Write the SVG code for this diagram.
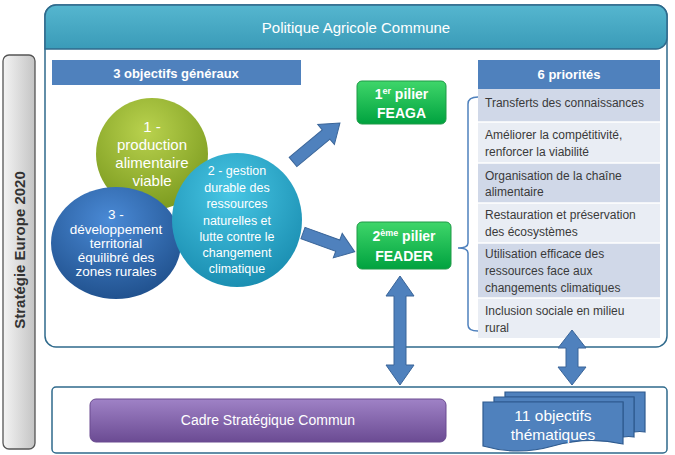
<svg xmlns="http://www.w3.org/2000/svg" width="675" height="455" viewBox="0 0 675 455">
<defs>
<linearGradient id="gBar" x1="0" y1="0" x2="1" y2="0"><stop offset="0" stop-color="#f4f4f4"/><stop offset="1" stop-color="#c4c4c4"/></linearGradient>
<linearGradient id="gHead" x1="0" y1="0" x2="0" y2="1"><stop offset="0" stop-color="#55b6cf"/><stop offset="1" stop-color="#3a9bb8"/></linearGradient>
<radialGradient id="gGreen" cx="0.45" cy="0.3" r="0.7"><stop offset="0" stop-color="#b9d24e"/><stop offset="1" stop-color="#7d9c20"/></radialGradient>
<radialGradient id="gBlue" cx="0.45" cy="0.3" r="0.7"><stop offset="0" stop-color="#4a8ad6"/><stop offset="1" stop-color="#21528f"/></radialGradient>
<radialGradient id="gTeal" cx="0.45" cy="0.3" r="0.7"><stop offset="0" stop-color="#47c6e4"/><stop offset="1" stop-color="#1b8fb2"/></radialGradient>
<linearGradient id="gPil" x1="0" y1="0" x2="0" y2="1"><stop offset="0" stop-color="#3fd66a"/><stop offset="1" stop-color="#00a23f"/></linearGradient>
<linearGradient id="gPur" x1="0" y1="0" x2="0" y2="1"><stop offset="0" stop-color="#9f82c6"/><stop offset="1" stop-color="#6b4b93"/></linearGradient>
<style>
text{font-family:"Liberation Sans",Arial,sans-serif;}
.w{fill:#fff;}
.c{text-anchor:middle;}
.b{font-weight:bold;}
.pr{font-size:12px;fill:#3a3a3a;}
.arrow{fill:#4f81bd;stroke:#3a6599;stroke-width:1;}
.doc{fill:#4f81bd;stroke:#2f5b8f;stroke-width:1.2;}
</style>
</defs>

<g id="strategie">
<rect x="3" y="55" width="32" height="394" rx="6" fill="url(#gBar)" stroke="#555" stroke-width="1.3"/>
<text transform="translate(25,250) rotate(-90)" class="c b" font-size="15" fill="#333">Stratégie Europe 2020</text>
</g>

<g id="pac">
<rect x="45" y="5" width="622" height="342" rx="11" fill="#fff" stroke="#2f6a8c" stroke-width="1.5"/>
<path d="M45,49 V16 A11,11 0 0 1 56,5 H656 A11,11 0 0 1 667,16 V38 A11,11 0 0 1 656,49 Z" fill="url(#gHead)" stroke="#2f6a8c" stroke-width="1.5"/>
<text x="356" y="33" class="c w" font-size="15">Politique Agricole Commune</text>
</g>

<g id="objectifs">
<rect x="52" y="60" width="249" height="25" fill="#4f81bd"/>
<text x="176" y="78" class="c w b" font-size="13">3 objectifs généraux</text>
</g>

<g id="obj1">
<circle cx="152" cy="154" r="56" fill="url(#gGreen)"/>
<text class="c w" font-size="15"><tspan x="152" y="132">1 -</tspan><tspan x="152" y="150">production</tspan><tspan x="152" y="168">alimentaire</tspan><tspan x="152" y="186">viable</tspan></text>
</g>

<g id="obj3">
<ellipse cx="116" cy="243" rx="65" ry="56" fill="url(#gBlue)"/>
<text class="c w" font-size="13.5"><tspan x="116" y="219">3 -</tspan><tspan x="116" y="234">développement</tspan><tspan x="116" y="248">territorial</tspan><tspan x="116" y="262">équilibré des</tspan><tspan x="116" y="276">zones rurales</tspan></text>
</g>

<g id="obj2">
<ellipse cx="237" cy="220" rx="65" ry="67" fill="url(#gTeal)"/>
<text class="c w" font-size="12.5"><tspan x="237" y="175">2 - gestion</tspan><tspan x="237" y="192">durable des</tspan><tspan x="237" y="208">ressources</tspan><tspan x="237" y="225">naturelles et</tspan><tspan x="237" y="241">lutte contre le</tspan><tspan x="237" y="257">changement</tspan><tspan x="237" y="273">climatique</tspan></text>
</g>

<g id="feaga">
<rect x="357" y="81" width="89" height="43" rx="5" fill="url(#gPil)" stroke="#1e9a46" stroke-width="1"/>
<text class="c w b" font-size="14"><tspan x="401.5" y="99">1<tspan font-size="9" dy="-5">er</tspan><tspan dy="5"> pilier</tspan></tspan><tspan x="401.5" y="118">FEAGA</tspan></text>
</g>

<g id="feader">
<rect x="357" y="222" width="94" height="47" rx="5" fill="url(#gPil)" stroke="#1e9a46" stroke-width="1"/>
<text class="c w b" font-size="14"><tspan x="404" y="241">2<tspan font-size="9" dy="-5">ème</tspan><tspan dy="5"> pilier</tspan></tspan><tspan x="404" y="261">FEADER</tspan></text>
</g>

<g id="priorites">
<rect x="478" y="60" width="182" height="29" fill="#4f81bd"/>
<text x="569" y="79" class="c w b" font-size="13">6 priorités</text>
<rect x="478" y="89" width="182" height="33" fill="#d0d8e8"/>
<rect x="478" y="122" width="182" height="41" fill="#e9edf4"/>
<rect x="478" y="163" width="182" height="40" fill="#d0d8e8"/>
<rect x="478" y="203" width="182" height="40" fill="#e9edf4"/>
<rect x="478" y="243" width="182" height="55" fill="#d0d8e8"/>
<rect x="478" y="298" width="182" height="40" fill="#e9edf4"/>
<line x1="478" y1="122" x2="660" y2="122" stroke="#fff" stroke-width="1.5"/>
<line x1="478" y1="163" x2="660" y2="163" stroke="#fff" stroke-width="1.5"/>
<line x1="478" y1="203" x2="660" y2="203" stroke="#fff" stroke-width="1.5"/>
<line x1="478" y1="243" x2="660" y2="243" stroke="#fff" stroke-width="1.5"/>
<line x1="478" y1="298" x2="660" y2="298" stroke="#fff" stroke-width="1.5"/>
<text class="pr"><tspan x="485" y="107">Transferts des connaissances</tspan></text>
<text class="pr"><tspan x="485" y="139">Améliorer la compétitivité,</tspan><tspan x="485" y="156">renforcer la viabilité</tspan></text>
<text class="pr"><tspan x="485" y="180">Organisation de la chaîne</tspan><tspan x="485" y="196">alimentaire</tspan></text>
<text class="pr"><tspan x="485" y="219">Restauration et préservation</tspan><tspan x="485" y="236">des écosystèmes</tspan></text>
<text class="pr"><tspan x="485" y="258">Utilisation  efficace des</tspan><tspan x="485" y="275">ressources face aux</tspan><tspan x="485" y="292">changements climatiques</tspan></text>
<text class="pr"><tspan x="485" y="315">Inclusion sociale en milieu</tspan><tspan x="485" y="332">rural</tspan></text>
</g>

<g id="cadre">
<rect x="52" y="387" width="615" height="66" rx="4" fill="#fff" stroke="#2f6a8c" stroke-width="1.5"/>
</g>

<g id="csc">
<rect x="90" y="399" width="356" height="43" rx="6" fill="url(#gPur)" stroke="#6a4a90" stroke-width="1"/>
<text x="268" y="425" class="c w" font-size="14">Cadre Stratégique Commun</text>
</g>

<g id="thematiques">
<path class="doc" d="M505,392 H645 V432 Q640,431 634,432 V397 H505 Z"/>
<path class="doc" d="M494,397 H634 V437 Q629,436 623,437 V402 H494 Z"/>
<path class="doc" d="M483,402 H623 V444 Q588,436 553,446 Q518,456 483,446 Z"/>
<text class="c w" font-size="15.5"><tspan x="553" y="421">11 objectifs</tspan><tspan x="553" y="440">thématiques</tspan></text>
</g>

<g id="connectors">
<polygon class="arrow" transform="translate(293,162) rotate(-39.7)" points="0,-6 43,-6 43,-13 61,0 43,13 43,6 0,6"/>
<polygon class="arrow" transform="translate(303,233) rotate(20)" points="0,-6 37,-6 37,-13 55,0 37,13 37,6 0,6"/>
<polygon class="arrow" points="400,276 414,296 406,296 406,365 414,365 400,385 386,365 394,365 394,296 386,296"/>
<polygon class="arrow" points="572,330 586,348 578,348 578,367 586,367 572,385 558,367 566,367 566,348 558,348"/>
<path d="M478,97 Q468,97 468,104 V243 Q468,248 458,248 Q468,248 468,253 V325 Q468,331 478,331" fill="none" stroke="#4f81bd" stroke-width="1.5"/>
</g>
</svg>
